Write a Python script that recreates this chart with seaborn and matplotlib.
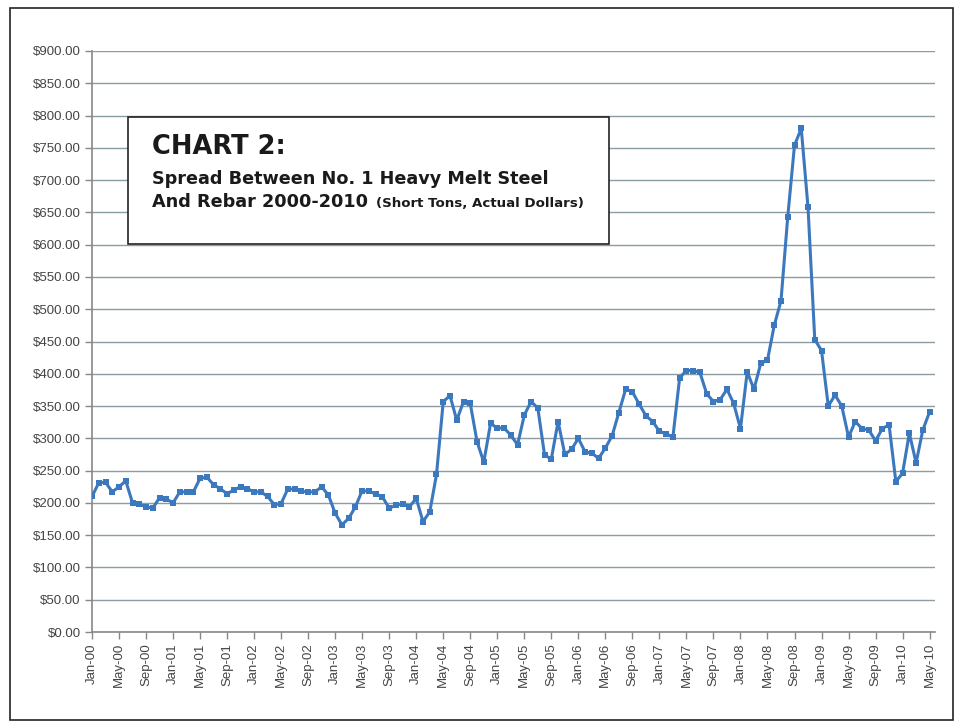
import matplotlib
matplotlib.use("Agg")
import matplotlib.pyplot as plt
import seaborn as sns
import pandas as pd
import numpy as np
from matplotlib.patches import Rectangle

# ---- data ----
months = pd.date_range("2000-01-01", periods=125, freq="MS")
month_labels = [d.strftime("%b-%y") for d in months]
spread = [
    210, 231, 232, 217, 225, 234, 200, 198, 194, 192, 208, 206,   # 2000
    200, 217, 217, 217, 238, 240, 228, 222, 214, 220, 225, 222,   # 2001
    217, 217, 210, 197, 199, 222, 221, 218, 217, 217, 225, 212,   # 2002
    184, 166, 176, 194, 219, 218, 214, 209, 192, 196, 199, 194,   # 2003
    207, 171, 186, 244, 357, 366, 328, 357, 354, 295, 263, 323,   # 2004
    316, 316, 305, 290, 336, 357, 347, 274, 268, 326, 275, 283,   # 2005
    300, 279, 277, 269, 285, 304, 340, 376, 372, 353, 335, 326,   # 2006
    311, 307, 302, 394, 405, 405, 402, 369, 357, 360, 376, 354,   # 2007
    315, 403, 376, 416, 421, 475, 513, 643, 754, 780, 658, 453,   # 2008
    436, 350, 367, 350, 302, 326, 315, 313, 296, 315, 321, 233,   # 2009
    246, 308, 262, 313, 341,                                      # 2010
]
y_ticks = list(range(0, 901, 50))
title_main = "CHART 2:"
title_line1 = "Spread Between No. 1 Heavy Melt Steel"
title_line2 = "And Rebar 2000-2010"
title_note = "(Short Tons, Actual Dollars)"

df = pd.DataFrame({"idx": np.arange(len(spread)), "value": spread})

sns.set_theme(style="white")
plt.rcParams["font.family"] = ["Liberation Sans", "DejaVu Sans"]

fig = plt.figure(figsize=(9.61, 7.27), dpi=100)
ax = fig.add_axes([92/961, 1-632/727, (935-92)/961, (632-51)/727])

ax.set_axisbelow(True)
for v in y_ticks:
    ax.axhline(v, color="#8d9ca3", lw=1.0, zorder=0)

sns.lineplot(data=df, x="idx", y="value", ax=ax, color="#3b78bd",
             lw=2.2, marker="s", markersize=4, markeredgewidth=0, zorder=3)

ax.set_xlim(0, 124.8)
ax.set_ylim(0, 900)
ax.set_yticks(y_ticks)
ax.set_yticklabels([f"${v:,.2f}" for v in y_ticks], fontsize=9.5, color="#444444")
tick_pos = list(range(0, 125, 4))
ax.set_xticks(tick_pos)
ax.set_xticklabels([month_labels[i] for i in tick_pos], rotation=90,
                   fontsize=9.5, color="#444444")
ax.set_xlabel("")
ax.set_ylabel("")
ax.tick_params(axis="both", which="major", direction="out", length=5,
               width=1, color="#888888", pad=3, left=True, bottom=True)
for s in ["top", "right"]:
    ax.spines[s].set_visible(False)
ax.spines["left"].set_color("#888888")
ax.spines["bottom"].set_color("#888888")
ax.spines["left"].set_linewidth(1.2)
ax.spines["bottom"].set_linewidth(1.2)

# title box
bx0, by0, bx1, by1 = 128/961, 1-244/727, 609/961, 1-117/727
fig.patches.append(Rectangle((bx0, by0), bx1-bx0, by1-by0, transform=fig.transFigure,
                             facecolor="white", edgecolor="#222222", lw=1.2, zorder=5))
fig.text(152/961, 1-154/727, title_main, fontsize=18.5, fontweight="heavy",
         family=["DejaVu Sans"], color="#1a1a1a", zorder=6, va="baseline")
fig.text(152/961, 1-184/727, title_line1, fontsize=12.7, fontweight="bold",
         family=["DejaVu Sans"], color="#1a1a1a", zorder=6, va="baseline")
fig.text(152/961, 1-207/727, title_line2, fontsize=12.7, fontweight="bold",
         family=["DejaVu Sans"], color="#1a1a1a", zorder=6, va="baseline")
fig.text(376/961, 1-207/727, title_note, fontsize=9.6, fontweight="bold",
         family=["DejaVu Sans"], color="#1a1a1a", zorder=6, va="baseline")

# outer frame
fig.patches.append(Rectangle((10/961, 1-720/727), 943/961, 712/727, transform=fig.transFigure,
                             facecolor="none", edgecolor="#222222", lw=1.2, zorder=0))

fig.savefig("out.png", dpi=100, facecolor="white")
